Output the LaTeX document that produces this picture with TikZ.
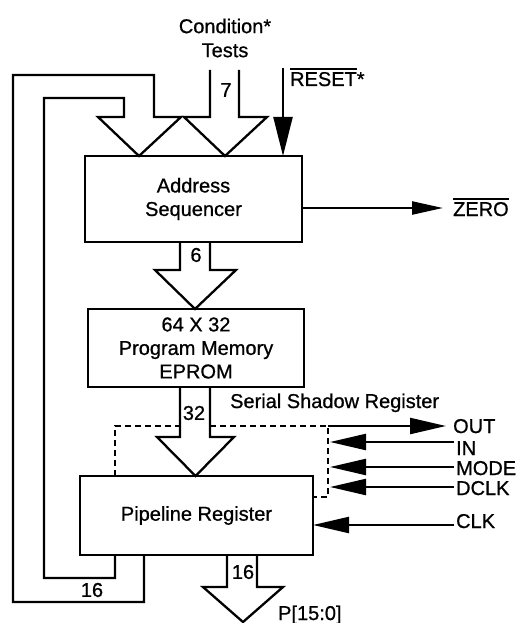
\documentclass[tikz,border=0pt]{standalone}
\usepackage{fontspec}
\setmainfont{Liberation Sans}[FakeBold=0.8]
\usetikzlibrary{arrows.meta}
\newcommand\ovl[1]{\vbox{\hrule height 1.3pt\kern 2.5pt\hbox{#1}}}
\begin{document}
\begin{tikzpicture}[x=1pt,y=-1pt,line width=2.3pt,
  box/.style={draw,line width=2.4pt,inner sep=0pt,align=center,font=\fontsize{20}{23.5}\selectfont},
  lbl/.style={inner sep=0pt,font=\fontsize{20}{24}\selectfont},
  sig/.style={-{Triangle[length=36pt,width=16pt]}},
  bus/.style={line width=2.3pt,line join=miter},
  shadow/.style={line width=2.3pt,dash pattern=on 6pt off 4pt}]
\useasboundingbox (0,0) rectangle (515,623);
% boxes
\node[box,minimum width=217pt,minimum height=86pt] (addr) at (193.5,199) {Address\\Sequencer};
\node[box,minimum width=216pt,minimum height=78pt] (mem) at (196,348) {64 X 32\\Program Memory\\EPROM};
\node[box,minimum width=233pt,minimum height=79pt] (pipe) at (196.5,515.5) {Pipeline Register};
% labels
\node[lbl,align=center] (cond) at (225,38) {Condition*\\Tests};
\node[lbl,anchor=base west] (reset) at (289,86) {\ovl{RESET}*};
\node[lbl,anchor=base west] (zero) at (452,216) {\ovl{ZERO}};
\node[lbl] (n7) at (226,90) {7};
\node[lbl] (n6) at (196,255) {6};
\node[lbl] (n32) at (194,413) {32};
\node[lbl] (n16a) at (243,572) {16};
\node[lbl] (n16b) at (92,590) {16};
\node[lbl,anchor=base west] (pout) at (277,620) {P[15:0]};
\node[lbl,anchor=base west] (ssr) at (229,408) {Serial Shadow Register};
\node[lbl,anchor=base west] (outl) at (452,433) {OUT};
\node[lbl,anchor=base west] (inl) at (455,455) {IN};
\node[lbl,anchor=base west] (model) at (455,475) {MODE};
\node[lbl,anchor=base west] (dclkl) at (455,495) {DCLK};
\node[lbl,anchor=base west] (clkl) at (455,528) {CLK};
% coordinates of signal ends
\coordinate (rstS) at (283,68);
\coordinate (rstE) at (283,156);
\coordinate (zeroS) at (302,208);
\coordinate (zeroE) at (443,208);
\coordinate (outS) at (328,426);
\coordinate (outE) at (446,426);
\coordinate (inS) at (454,442);
\coordinate (inE) at (330,442);
\coordinate (modeS) at (454,467);
\coordinate (modeE) at (330,467);
\coordinate (dclkS) at (454,487);
\coordinate (dclkE) at (330,487);
\coordinate (clkS) at (454,525);
\coordinate (clkE) at (313,525);
% thin signals
\draw[-{Triangle[length=39pt,width=19pt]}] (rstS) -- (rstE);
\draw[-{Triangle[length=31pt,width=13pt]}] (zeroS) -- (zeroE);
\draw[sig] (outS) -- (outE);
\draw[sig] (inS) -- (inE);
\draw[sig] (modeS) -- (modeE);
\draw[sig] (dclkS) -- (dclkE);
\draw[sig] (clkS) -- (clkE);
% wide bus arrows
\draw[bus] (115,555) -- (115,578) -- (44,578) -- (44,98) -- (124,98) -- (124,117) -- (98,117)
  -- (139,156) -- (181,117) -- (154,117) -- (154,75) -- (13,75) -- (13,602) -- (144,602) -- (144,555);
\draw[bus] (210,70) -- (210,117) -- (184,117) -- (225,156) -- (267,117) -- (239,117) -- (239,70);
\draw[bus] (180,242) -- (180,270) -- (155,270) -- (195,309) -- (236,270) -- (210,270) -- (210,242);
\draw[bus] (180,387) -- (180,437) -- (157,437) -- (195.5,476) -- (234,437) -- (210,437) -- (210,387);
\draw[bus] (227,555) -- (227,587) -- (203,587) -- (243,622) -- (283,587) -- (257,587) -- (257,555);
% serial shadow register outline
\draw[shadow] (115,476) -- (115,426) -- (180,426);
\draw[shadow] (210,426) -- (328,426) -- (328,497) -- (313,497);
\end{tikzpicture}
\end{document}
